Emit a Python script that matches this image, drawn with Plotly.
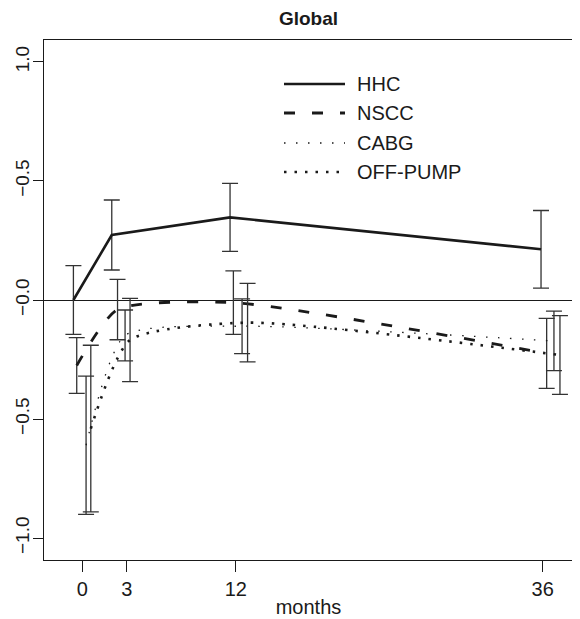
import plotly.graph_objects as go

# ---- data ----
tick_vals = [0, 3.47, 12, 36]
tick_text = ["0", "3", "12", "36"]
ytick_vals = [1.0, 0.5, 0.0, -0.5, -1.0]
ytick_text = ["1.0", "\u22120.5", "\u22120.0", "\u22120.5", "\u22121.0"]

hhc_x = [-0.70, 2.30, 11.55, 35.87]
hhc_y = [0.0, 0.273, 0.347, 0.213]
hhc_ci = [0.144, 0.147, 0.143, 0.163]

nscc_x = [-0.44, 2.75, 11.81, 36.31]
nscc_y = [-0.275, -0.04, -0.011, -0.224]
nscc_ci = [0.117, 0.127, 0.133, 0.147]

cabg_x = [0.29, 3.34, 12.49, 36.88]
cabg_y = [-0.61, -0.149, -0.11, -0.172]
cabg_ci = [0.29, 0.107, 0.115, 0.125]

off_x = [0.66, 3.73, 12.92, 37.35]
off_y = [-0.54, -0.168, -0.095, -0.231]
off_ci = [0.35, 0.175, 0.165, 0.165]

names = ["HHC", "NSCC", "CABG", "OFF-PUMP"]

FONT = "Liberation Sans, Arial, Helvetica, sans-serif"
INK = "#1a1a1a"
BAR = "#333333"

series = [
    (names[0], hhc_x, hhc_y, hhc_ci, dict(color=INK, width=2.6, dash="solid", shape="linear")),
    (names[1], nscc_x, nscc_y, nscc_ci, dict(color=INK, width=2.8, dash="11px,17px", shape="spline", smoothing=0.6)),
    (names[2], cabg_x, cabg_y, cabg_ci, dict(color=INK, width=1.3, dash="1.5px,10.5px", shape="spline", smoothing=0.6)),
    (names[3], off_x, off_y, off_ci, dict(color=INK, width=2.6, dash="2.5px,8px", shape="spline", smoothing=0.6)),
]

fig = go.Figure()
for name, xs, ys, ci, line in series:
    fig.add_trace(go.Scatter(
        x=xs, y=ys, name=name, mode="lines", line=line,
        error_y=dict(type="data", array=ci, visible=True, color=BAR, thickness=1.3, width=8),
        showlegend=False,
    ))

# page geometry (the page body adds an 8px offset)
OFF = 8
W, H = 580 - OFF, 619 - OFF
ml, mr, mt, mb = 44 - OFF, 7, 40 - OFF, 59
pw, ph = W - ml - mr, H - mt - mb

# legend drawn in R style (line samples + labels), page pixel rows
leg_y = [84, 113, 143, 172]
for i, (name, _, _, _, line) in enumerate(series):
    yp = 1 - (leg_y[i] - 40) / ph
    x0 = (284 - 44) / pw
    x1 = (345 - 44) / pw
    fig.add_shape(type="line", xref="paper", yref="paper", x0=x0, x1=x1, y0=yp, y1=yp,
                  line=dict(color=line["color"], width=line["width"], dash=line["dash"]))
    fig.add_annotation(xref="paper", yref="paper", x=(355 - 44) / pw, y=yp, text=name,
                       showarrow=False, xanchor="left", yanchor="middle",
                       font=dict(family=FONT, size=20, color=INK))

fig.update_layout(
    width=W, height=H,
    margin=dict(l=ml, r=mr, t=mt, b=mb, autoexpand=False),
    paper_bgcolor="white", plot_bgcolor="white",
    font=dict(family=FONT, size=20, color=INK),
    title=dict(text="<b>Global</b>", x=(ml + pw / 2) / W, xanchor="center",
               y=1 - (18 - OFF) / H, yanchor="middle",
               font=dict(family=FONT, size=19, color=INK)),
)
fig.update_xaxes(
    automargin=False,
    range=[-3.0, 38.37], tickmode="array", tickvals=tick_vals, ticktext=tick_text,
    ticks="outside", ticklen=11, tickwidth=1.2, tickcolor=INK,
    showline=True, linecolor=INK, linewidth=1.3, mirror=True, showgrid=False, zeroline=False,
    title=dict(text="months", standoff=0, font=dict(family=FONT, size=20, color=INK)),
    tickfont=dict(family=FONT, size=20, color=INK),
)
fig.update_yaxes(
    automargin=False,
    range=[-1.092, 1.092], tickmode="array", tickvals=ytick_vals, ticktext=ytick_text,
    ticks="outside", ticklen=10, tickwidth=1.2, tickcolor=INK, tickangle=-90,
    ticklabelstandoff=-4,
    showline=True, linecolor=INK, linewidth=1.3, mirror=True, showgrid=False,
    zeroline=True, zerolinecolor=INK, zerolinewidth=1.3,
    tickfont=dict(family=FONT, size=19, color=INK),
)

fig.write_html("out.html")
